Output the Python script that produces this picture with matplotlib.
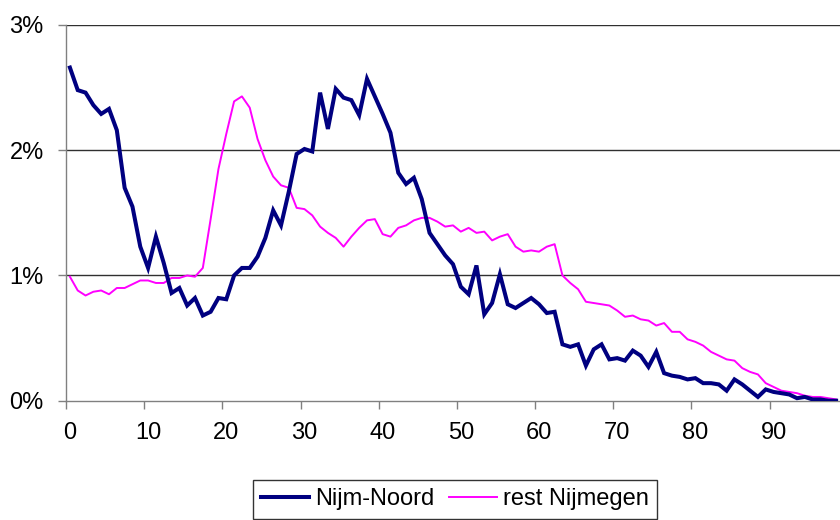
import matplotlib
matplotlib.use("Agg")
import matplotlib.pyplot as plt
import numpy as np

plt.rcParams['font.family'] = ['Liberation Sans', 'DejaVu Sans']

ages = list(range(99))

nijm_noord = [
    2.66, 2.48, 2.46, 2.36, 2.29, 2.33, 2.16, 1.70, 1.55, 1.23,
    1.06, 1.31, 1.10, 0.86, 0.90, 0.76, 0.82, 0.68, 0.71, 0.82,
    0.81, 1.00, 1.06, 1.06, 1.15, 1.30, 1.52, 1.40, 1.67, 1.97,
    2.01, 1.99, 2.46, 2.17, 2.49, 2.42, 2.40, 2.28, 2.57, 2.43,
    2.29, 2.14, 1.82, 1.73, 1.78, 1.61, 1.34, 1.25, 1.16, 1.09,
    0.91, 0.85, 1.08, 0.69, 0.78, 1.01, 0.77, 0.74, 0.78, 0.82,
    0.77, 0.70, 0.71, 0.45, 0.43, 0.45, 0.28, 0.41, 0.45, 0.33,
    0.34, 0.32, 0.40, 0.36, 0.27, 0.39, 0.22, 0.20, 0.19, 0.17,
    0.18, 0.14, 0.14, 0.13, 0.08, 0.17, 0.13, 0.08, 0.03, 0.09,
    0.07, 0.06, 0.05, 0.02, 0.03, 0.01, 0.01, 0.00, 0.00,
]

rest_nijmegen = [
    0.99, 0.88, 0.84, 0.87, 0.88, 0.85, 0.90, 0.90, 0.93, 0.96,
    0.96, 0.94, 0.94, 0.98, 0.98, 1.00, 0.99, 1.06, 1.45, 1.85,
    2.13, 2.39, 2.43, 2.34, 2.09, 1.92, 1.79, 1.72, 1.70, 1.54,
    1.53, 1.48, 1.39, 1.34, 1.30, 1.23, 1.31, 1.38, 1.44, 1.45,
    1.33, 1.31, 1.38, 1.40, 1.44, 1.46, 1.46, 1.43, 1.39, 1.40,
    1.35, 1.38, 1.34, 1.35, 1.28, 1.31, 1.33, 1.23, 1.19, 1.20,
    1.19, 1.23, 1.25, 1.00, 0.94, 0.89, 0.79, 0.78, 0.77, 0.76,
    0.72, 0.67, 0.68, 0.65, 0.64, 0.60, 0.62, 0.55, 0.55, 0.49,
    0.47, 0.44, 0.39, 0.36, 0.33, 0.32, 0.26, 0.23, 0.21, 0.14,
    0.11, 0.08, 0.07, 0.06, 0.04, 0.03, 0.03, 0.02, 0.01,
]

series_names = ['Nijm-Noord', 'rest Nijmegen']
y_ticks = [0, 1, 2, 3]
x_label_ticks = list(range(0, 100, 10))

fig = plt.figure(figsize=(8.4, 5.2), dpi=100)
ax = fig.add_axes([66 / 840, 1 - 400.7 / 520, 1 - 66 / 840, (400.7 - 25) / 520])

for y in y_ticks[1:]:
    ax.axhline(y, color='#303030', lw=1.0, zorder=1)

ax.plot(ages, nijm_noord, color='#000080', lw=2.9, label=series_names[0],
        zorder=3, solid_joinstyle='miter')
ax.plot(ages, rest_nijmegen, color='#FF00FF', lw=1.4, label=series_names[1],
        zorder=2)

ax.set_xlim(-0.5, len(ages) - 0.5)
ax.set_ylim(0, 3)

ax.set_yticks(y_ticks)
ax.set_yticklabels([f'{v}%' for v in y_ticks])
ax.tick_params(axis='y', direction='out', length=6, width=1, color='#808080',
               labelsize=17, pad=10)

ax.set_xticks(x_label_ticks)
ax.set_xticklabels([str(v) for v in x_label_ticks])
ax.tick_params(axis='x', which='major', length=0, labelsize=17, pad=15)
ax.set_xticks([v - 0.5 for v in x_label_ticks], minor=True)
ax.tick_params(axis='x', which='minor', direction='out', length=5.5, width=1,
               color='#808080')

for side in ['top', 'right']:
    ax.spines[side].set_visible(False)
for side in ['left', 'bottom']:
    ax.spines[side].set_color('#808080')
    ax.spines[side].set_linewidth(1.0)

leg = fig.legend(loc='upper center', bbox_to_anchor=(455 / 840, 1 - 480 / 520),
                 ncol=2, fontsize=17, frameon=True, fancybox=False,
                 edgecolor='black', handlelength=2.05, handletextpad=0.26,
                 columnspacing=0.6, borderpad=0.35, borderaxespad=0)
leg.get_frame().set_linewidth(1.0)

fig.savefig('out.png', dpi=100)
